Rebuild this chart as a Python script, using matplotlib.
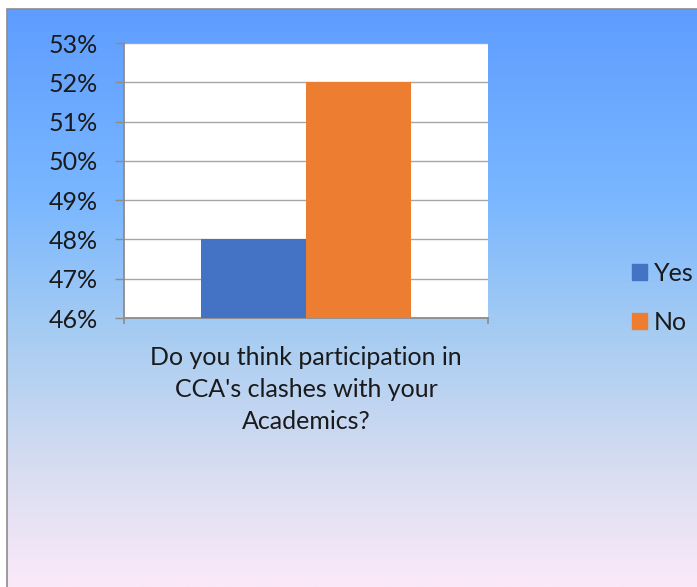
import matplotlib.pyplot as plt
import numpy as np
from matplotlib.patches import Rectangle, Patch

categories = ["Do you think participation in\nCCA's clashes with your\nAcademics?"]
series = ['Yes', 'No']
values = [48, 52]
colors = ['#4472C4', '#ED7D31']
yticks = [46, 47, 48, 49, 50, 51, 52, 53]

plt.rcParams['font.family'] = ['Lato', 'DejaVu Sans']

W, H = 697, 587
fig = plt.figure(figsize=(W / 100, H / 100), dpi=100)
fig.patch.set_facecolor('white')

# gradient background (blue top -> pink bottom)
stops = [0.0, 0.33, 0.56, 0.815, 1.0]
cols = np.array([(94, 157, 255), (122, 183, 255), (166, 204, 242),
                 (219, 222, 241), (251, 233, 249)]) / 255.0
t = np.linspace(0, 1, 256)
grad = np.stack([np.interp(t, stops, cols[:, i]) for i in range(3)], axis=1)
grad = grad[:, None, :]
bg = fig.add_axes([7 / W, 0, (W - 7) / W, (H - 9) / H], zorder=-1)
bg.imshow(grad, aspect='auto', extent=[0, 1, 0, 1], origin='upper')
bg.axis('off')
fig.patches.append(Rectangle((7 / W, -0.01), 1, (H - 9) / H + 0.01,
                             transform=fig.transFigure, fill=False,
                             edgecolor='#8C8C8C', linewidth=1.2))

ax = fig.add_axes([124 / W, (H - 318) / H, 364 / W, 275 / H])
ax.set_facecolor('white')
width = 0.288
offsets = [-0.144, 0.144]
for i, s in enumerate(series):
    ax.bar(offsets[i], values[i] - 46, bottom=46, width=width,
           color=colors[i], label=s, zorder=3)

ax.set_xlim(-0.5, 0.5)
ax.set_ylim(46, 53)
ax.set_yticks(yticks)
ax.set_yticklabels([f'{v}%' for v in yticks], fontsize=18, color='#1a1a1a')
ax.yaxis.grid(True, color='#A6A6A6', linewidth=1.0, zorder=0)
ax.set_axisbelow(True)
ax.set_xticks([-0.5, 0.5])
ax.set_xticklabels(['', ''])
ax.tick_params(axis='y', length=6.5, width=1.0, color='#8C8C8C', pad=12)
ax.tick_params(axis='x', length=4, width=1.2, color='#8C8C8C')
for sp in ['top', 'right']:
    ax.spines[sp].set_visible(False)
for sp in ['left', 'bottom']:
    ax.spines[sp].set_color('#8C8C8C')
    ax.spines[sp].set_linewidth(1.3)

fig.text(306 / W, 1 - 346 / H, categories[0], ha='center', va='top',
         fontsize=18, color='#1a1a1a', linespacing=1.48)

handles = [Patch(color=c) for c in colors]
fig.legend(handles, series, loc='center left',
           bbox_to_anchor=(619 / W, 1 - 298 / H), frameon=False,
           fontsize=18, handlelength=0.6, handleheight=0.6,
           handletextpad=0.3, labelspacing=1.05, borderpad=0,
           labelcolor='#1a1a1a')

fig.savefig('out.png', dpi=100)
